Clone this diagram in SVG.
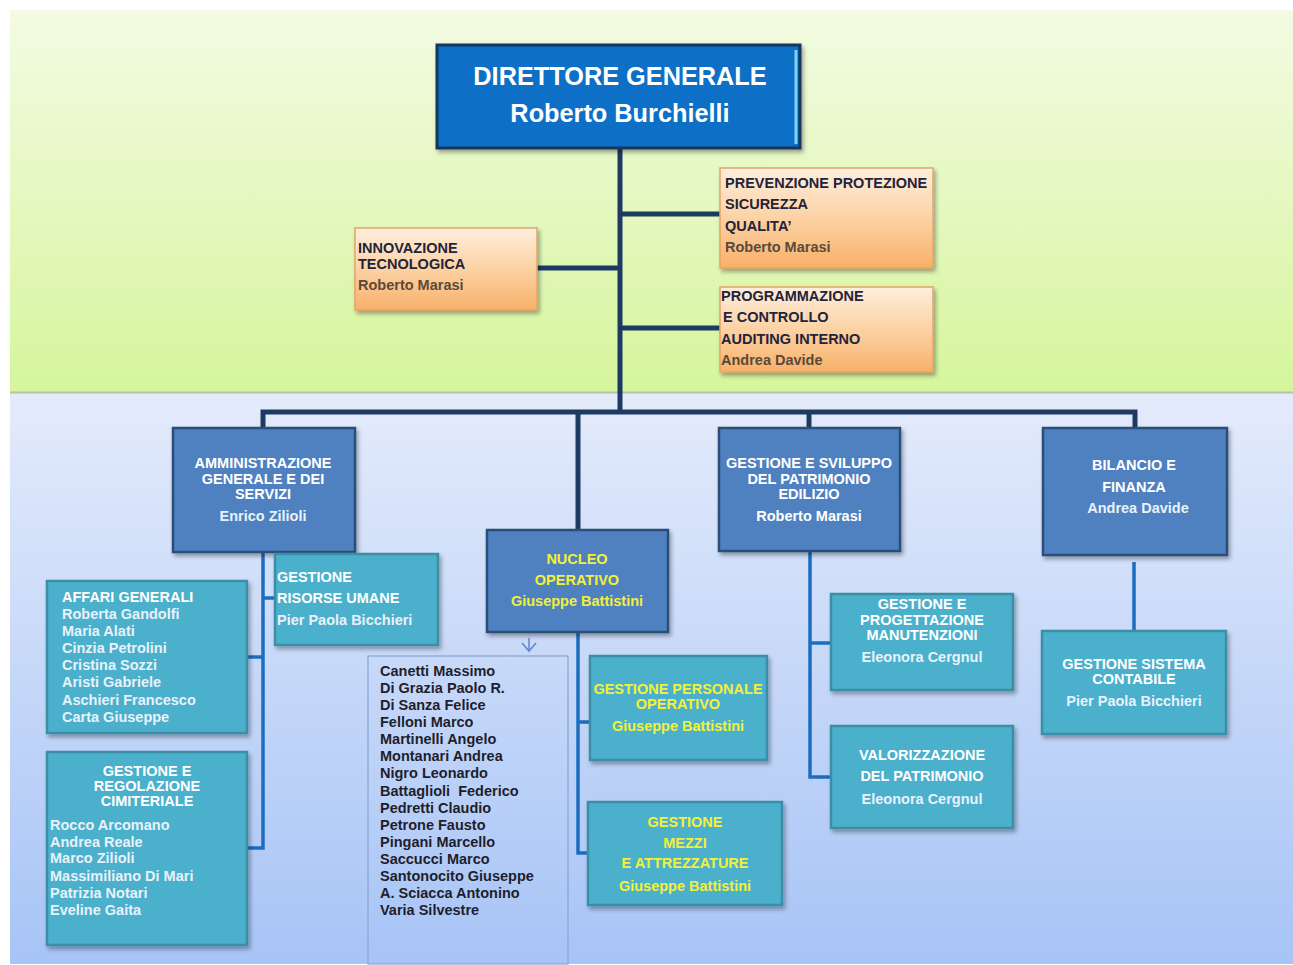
<svg xmlns="http://www.w3.org/2000/svg" width="1293" height="965" viewBox="0 0 1293 965">
<defs>
<linearGradient id="gGreen" x1="0" y1="0" x2="0" y2="1"><stop offset="0" stop-color="#f3fbe3"/><stop offset="1" stop-color="#d6f59c"/></linearGradient>
<linearGradient id="gBlue" x1="0" y1="0" x2="0" y2="1"><stop offset="0" stop-color="#e4ebfb"/><stop offset="1" stop-color="#a7c4f6"/></linearGradient>
<linearGradient id="gOrange" x1="0" y1="0" x2="0" y2="1"><stop offset="0" stop-color="#feeedd"/><stop offset="0.5" stop-color="#fcd2a4"/><stop offset="1" stop-color="#f8b06a"/></linearGradient>
<filter id="sh" x="-10%" y="-10%" width="130%" height="130%"><feDropShadow dx="2" dy="3" stdDeviation="2" flood-color="#000" flood-opacity="0.35"/></filter>
</defs>
<style>
.t{font-family:"Liberation Sans",Arial,sans-serif;font-weight:bold;font-size:14.5px}
.w{fill:#ffffff}
.wn{fill:#e8f2fb}
.y{fill:#f4f03a}
.dk{fill:#23233a}
.dn{fill:#5a4a3a}
.lst{fill:#1e1e2c}
.c{text-anchor:middle}
.big{font-size:25.3px;fill:#ffffff}
.org{fill:url(#gOrange);stroke:#e6a466;stroke-width:1.5;filter:url(#sh)}
.blu{fill:#4f81c0;stroke:#2b4d7a;stroke-width:2.5;filter:url(#sh)}
.tea{fill:#4bb0cc;stroke:#3a8ea5;stroke-width:2.5;filter:url(#sh)}
.nav{stroke:#1d3a63;stroke-width:5;fill:none}
.bl{stroke:#1c6cc0;stroke-width:3.5;fill:none}
</style>
<rect x="0" y="0" width="1293" height="965" fill="#ffffff"/>
<rect x="10" y="10" width="1283" height="382" fill="url(#gGreen)"/>
<rect x="10" y="392" width="1283" height="572" fill="url(#gBlue)"/>
<line x1="10" y1="392.5" x2="1293" y2="392.5" stroke="#b7c2a4" stroke-width="2"/>

<g id="connectors">
<polyline class="nav" points="620,148 620,412"/>
<line class="nav" x1="620" y1="214" x2="720" y2="214"/>
<line class="nav" x1="537" y1="268" x2="620" y2="268"/>
<line class="nav" x1="620" y1="328" x2="720" y2="328"/>
<polyline class="nav" points="263,430 263,412 1135,412 1135,436"/>
<line class="nav" x1="578" y1="412" x2="578" y2="531"/>
<line class="nav" x1="809" y1="412" x2="809" y2="429"/>
<polyline class="bl" points="263,552 263,848 247,848"/>
<line class="bl" x1="263" y1="598" x2="276" y2="598"/>
<line class="bl" x1="247" y1="657" x2="263" y2="657"/>
<polyline class="bl" points="578,632 578,853 589,853"/>
<line class="bl" x1="578" y1="722" x2="591" y2="722"/>
<polyline class="bl" points="810,551 810,777 832,777"/>
<line class="bl" x1="810" y1="643" x2="832" y2="643"/>
<line class="bl" x1="1134" y1="562" x2="1134" y2="632"/>
<polyline points="522,643 529,651 536,643" fill="none" stroke="#5b86c9" stroke-width="1.5"/>
<line x1="529" y1="638" x2="529" y2="651" stroke="#5b86c9" stroke-width="1.5"/>
</g>

<g id="direttore">
<rect x="437" y="45" width="363" height="103" fill="#0f6fc6" stroke="#13365f" stroke-width="3" filter="url(#sh)"/>
<line x1="796" y1="50" x2="796" y2="144" stroke="#7fd2f4" stroke-width="3"/>
<text class="t big c" x="620" y="85">DIRETTORE GENERALE</text>
<text class="t big c" x="620" y="122">Roberto Burchielli</text>
</g>

<g id="innovazione">
<rect class="org" x="355" y="228" width="182" height="82"/>
<text class="t dk" x="358" y="253">INNOVAZIONE</text>
<text class="t dk" x="358" y="269">TECNOLOGICA</text>
<text class="t dn" x="358" y="290">Roberto Marasi</text>
</g>

<g id="prevenzione">
<rect class="org" x="720" y="168" width="213" height="100"/>
<text class="t dk" x="725" y="188">PREVENZIONE PROTEZIONE</text>
<text class="t dk" x="725" y="209">SICUREZZA</text>
<text class="t dk" x="725" y="231">QUALITA’</text>
<text class="t dn" x="725" y="252">Roberto Marasi</text>
</g>

<g id="programmazione">
<rect class="org" x="720" y="287" width="213" height="85"/>
<text class="t dk" x="721" y="301">PROGRAMMAZIONE</text>
<text class="t dk" x="723" y="322">E CONTROLLO</text>
<text class="t dk" x="721" y="344">AUDITING INTERNO</text>
<text class="t dn" x="721" y="365">Andrea Davide</text>
</g>

<g id="amministrazione">
<rect class="blu" x="173" y="428" width="182" height="124"/>
<text class="t w c" x="263" y="468">AMMINISTRAZIONE</text>
<text class="t w c" x="263" y="484">GENERALE E DEI</text>
<text class="t w c" x="263" y="499">SERVIZI</text>
<text class="t wn c" x="263" y="521">Enrico Zilioli</text>
</g>

<g id="nucleo">
<rect class="blu" x="487" y="530" width="181" height="102"/>
<text class="t y c" x="577" y="564">NUCLEO</text>
<text class="t y c" x="577" y="585">OPERATIVO</text>
<text class="t y c" x="577" y="606">Giuseppe Battistini</text>
</g>

<g id="patrimonio">
<rect class="blu" x="719" y="428" width="181" height="123"/>
<text class="t w c" x="809" y="468">GESTIONE E SVILUPPO</text>
<text class="t w c" x="809" y="484">DEL PATRIMONIO</text>
<text class="t w c" x="809" y="499">EDILIZIO</text>
<text class="t w c" x="809" y="521">Roberto Marasi</text>
</g>

<g id="bilancio">
<rect class="blu" x="1043" y="428" width="184" height="127"/>
<text class="t w c" x="1134" y="470">BILANCIO E</text>
<text class="t w c" x="1134" y="492">FINANZA</text>
<text class="t wn c" x="1138" y="513">Andrea Davide</text>
</g>

<g id="affari">
<rect class="tea" x="47" y="581" width="200" height="152"/>
<text class="t w" x="62" y="602">AFFARI GENERALI</text>
<text class="t wn" x="62" y="619">Roberta Gandolfi</text>
<text class="t wn" x="62" y="636">Maria Alati</text>
<text class="t wn" x="62" y="653">Cinzia Petrolini</text>
<text class="t wn" x="62" y="670">Cristina Sozzi</text>
<text class="t wn" x="62" y="687">Aristi Gabriele</text>
<text class="t wn" x="62" y="705">Aschieri Francesco</text>
<text class="t wn" x="62" y="722">Carta Giuseppe</text>
</g>

<g id="risorse">
<rect class="tea" x="275" y="554" width="163" height="91"/>
<text class="t w" x="277" y="582">GESTIONE</text>
<text class="t w" x="277" y="603">RISORSE UMANE</text>
<text class="t wn" x="277" y="625">Pier Paola Bicchieri</text>
</g>

<g id="cimiteriale">
<rect class="tea" x="47" y="752" width="200" height="193"/>
<text class="t w c" x="147" y="776">GESTIONE E</text>
<text class="t w c" x="147" y="791">REGOLAZIONE</text>
<text class="t w c" x="147" y="806">CIMITERIALE</text>
<text class="t wn" x="50" y="830">Rocco Arcomano</text>
<text class="t wn" x="50" y="847">Andrea Reale</text>
<text class="t wn" x="50" y="863">Marco Zilioli</text>
<text class="t wn" x="50" y="881">Massimiliano Di Mari</text>
<text class="t wn" x="50" y="898">Patrizia Notari</text>
<text class="t wn" x="50" y="915">Eveline Gaita</text>
</g>

<g id="elenco">
<rect x="368" y="656" width="200" height="308" fill="none" stroke="#88a4d2" stroke-width="1.2"/>
<text class="t lst" x="380" y="676">Canetti Massimo</text>
<text class="t lst" x="380" y="693">Di Grazia Paolo R.</text>
<text class="t lst" x="380" y="710">Di Sanza Felice</text>
<text class="t lst" x="380" y="727">Felloni Marco</text>
<text class="t lst" x="380" y="744">Martinelli Angelo</text>
<text class="t lst" x="380" y="761">Montanari Andrea</text>
<text class="t lst" x="380" y="778">Nigro Leonardo</text>
<text class="t lst" x="380" y="796" xml:space="preserve">Battaglioli  Federico</text>
<text class="t lst" x="380" y="813">Pedretti Claudio</text>
<text class="t lst" x="380" y="830">Petrone Fausto</text>
<text class="t lst" x="380" y="847">Pingani Marcello</text>
<text class="t lst" x="380" y="864">Saccucci Marco</text>
<text class="t lst" x="380" y="881">Santonocito Giuseppe</text>
<text class="t lst" x="380" y="898">A. Sciacca Antonino</text>
<text class="t lst" x="380" y="915">Varia Silvestre</text>
</g>

<g id="personale">
<rect class="tea" x="590" y="656" width="177" height="104"/>
<text class="t y c" x="678" y="694">GESTIONE PERSONALE</text>
<text class="t y c" x="678" y="709">OPERATIVO</text>
<text class="t y c" x="678" y="731">Giuseppe Battistini</text>
</g>

<g id="mezzi">
<rect class="tea" x="588" y="802" width="194" height="103"/>
<text class="t y c" x="685" y="827">GESTIONE</text>
<text class="t y c" x="685" y="848">MEZZI</text>
<text class="t y c" x="685" y="868">E ATTREZZATURE</text>
<text class="t y c" x="685" y="891">Giuseppe Battistini</text>
</g>

<g id="manutenzioni">
<rect class="tea" x="831" y="594" width="182" height="96"/>
<text class="t w c" x="922" y="609">GESTIONE E</text>
<text class="t w c" x="922" y="625">PROGETTAZIONE</text>
<text class="t w c" x="922" y="640">MANUTENZIONI</text>
<text class="t wn c" x="922" y="662">Eleonora Cergnul</text>
</g>

<g id="valorizzazione">
<rect class="tea" x="831" y="726" width="182" height="102"/>
<text class="t w c" x="922" y="760">VALORIZZAZIONE</text>
<text class="t w c" x="922" y="781">DEL PATRIMONIO</text>
<text class="t wn c" x="922" y="804">Eleonora Cergnul</text>
</g>

<g id="contabile">
<rect class="tea" x="1042" y="631" width="184" height="103"/>
<text class="t w c" x="1134" y="669">GESTIONE SISTEMA</text>
<text class="t w c" x="1134" y="684">CONTABILE</text>
<text class="t wn c" x="1134" y="706">Pier Paola Bicchieri</text>
</g>
</svg>
